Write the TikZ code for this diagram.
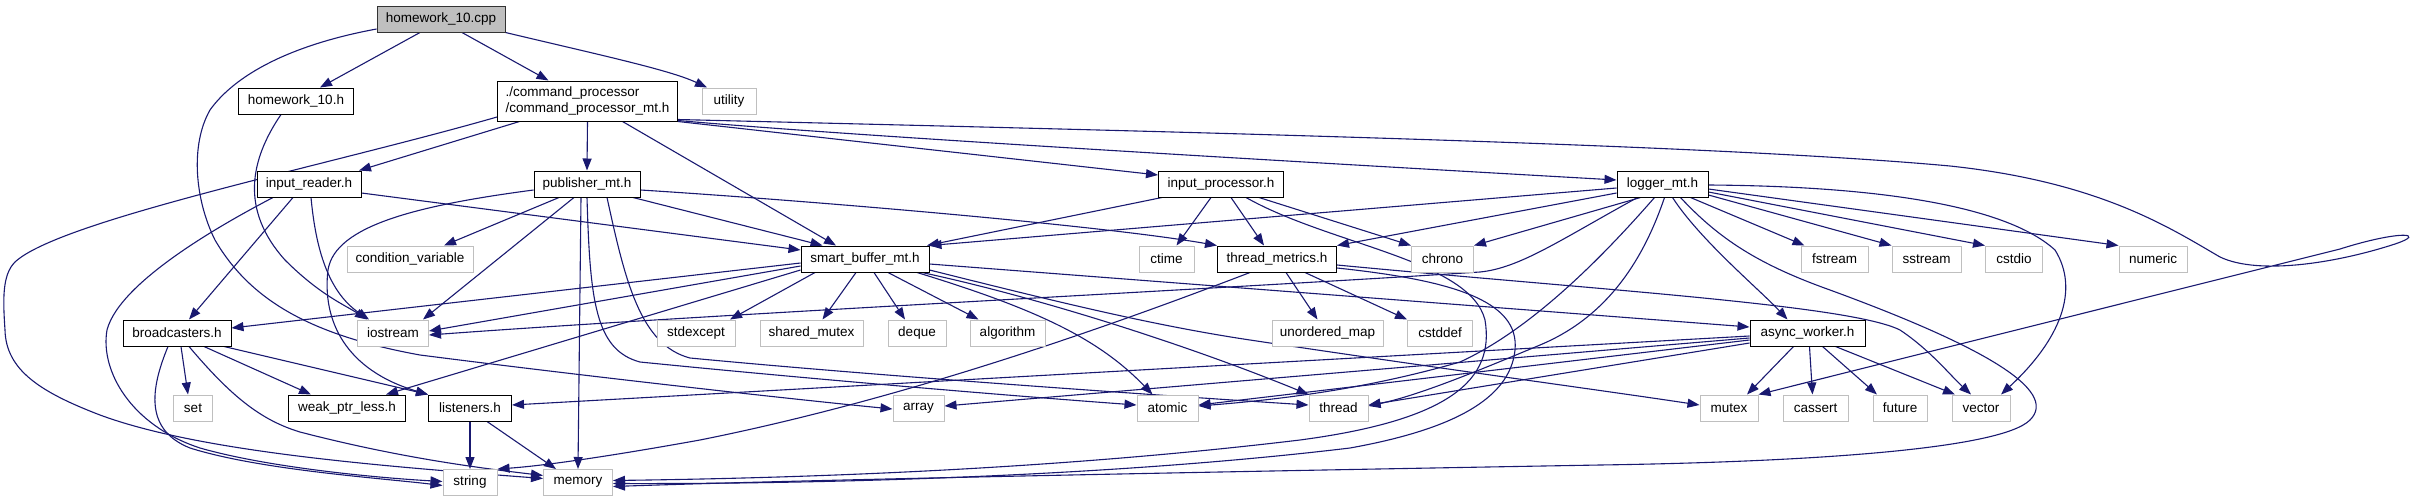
\documentclass[tikz,border=0pt]{standalone}
\usepackage{fontspec}
\setmainfont{Liberation Sans}
\usetikzlibrary{arrows.meta}
\definecolor{edgeblue}{HTML}{191970}
\definecolor{extgray}{HTML}{BFBFBF}
\definecolor{rootgray}{HTML}{BFBFBF}
\pgfdeclarelayer{bg}
\pgfsetlayers{bg,main}
\tikzset{
  nd/.style={draw=black, line width=1pt, fill=white, minimum height=26pt, inner sep=0pt, font=\fontsize{13.5}{15.5}\selectfont},
  ext/.style={nd, draw=extgray},
  root/.style={nd, fill=rootgray, draw=black!80},
  edge/.style={draw=edgeblue, line width=1.1pt, -{Triangle[length=12pt,width=9pt]}}
}
\begin{document}
\begin{tikzpicture}[x=1pt,y=-1pt]
\useasboundingbox (0,0) rectangle (2413,501);
% row 0
\node[root, minimum width=128pt] (cpp) at (441,19) {homework\_10.cpp};
% row 1
\node[nd, minimum width=115pt] (hw10h) at (296,101) {homework\_10.h};
\node[nd, minimum width=180pt, minimum height=40pt, align=left] (cmd) at (587.5,101) {./command\_processor\\/command\_processor\_mt.h};
\node[ext, minimum width=54pt] (utility) at (729,101) {utility};
% row 2
\node[nd, minimum width=104pt] (ireader) at (309,184) {input\_reader.h};
\node[nd, minimum width=106pt] (publisher) at (587,184) {publisher\_mt.h};
\node[nd, minimum width=125pt] (iproc) at (1221,184) {input\_processor.h};
\node[nd, minimum width=91pt] (logger) at (1662.5,184) {logger\_mt.h};
% row 3
\node[ext, minimum width=126pt] (condvar) at (410,259) {condition\_variable};
\node[nd, minimum width=128pt] (sbuf) at (865,259) {smart\_buffer\_mt.h};
\node[ext, minimum width=55pt] (ctime) at (1166.5,259) {ctime};
\node[nd, minimum width=119pt] (tmetrics) at (1277,259) {thread\_metrics.h};
\node[ext, minimum width=62pt] (chrono) at (1442.5,259) {chrono};
\node[ext, minimum width=67pt] (fstream) at (1834.5,259) {fstream};
\node[ext, minimum width=69pt] (sstream) at (1926.5,259) {sstream};
\node[ext, minimum width=57pt] (cstdio) at (2014,259) {cstdio};
\node[ext, minimum width=68pt] (numeric) at (2153,259) {numeric};
% row 4
\node[nd, minimum width=108pt] (bcast) at (177,333) {broadcasters.h};
\node[ext, minimum width=71pt] (iostream) at (393,333) {iostream};
\node[ext, minimum width=78pt] (stdexcept) at (696,333) {stdexcept};
\node[ext, minimum width=103pt] (shmutex) at (811.5,333) {shared\_mutex};
\node[ext, minimum width=58pt] (deque) at (917,333) {deque};
\node[ext, minimum width=75pt] (algorithm) at (1007.5,333) {algorithm};
\node[ext, minimum width=111pt] (umap) at (1327.5,333) {unordered\_map};
\node[ext, minimum width=65pt] (cstddef) at (1440,333) {cstddef};
\node[nd, minimum width=115pt] (aworker) at (1807.5,333) {async\_worker.h};
% row 5
\node[ext, minimum width=39pt] (set) at (193,408) {set};
\node[nd, minimum width=117pt] (weak) at (347,408) {weak\_ptr\_less.h};
\node[nd, minimum width=83pt] (listeners) at (470,408) {listeners.h};
\node[ext, minimum width=51pt] (array) at (918.5,408) {array};
\node[ext, minimum width=61pt] (atomic) at (1167.5,408) {atomic};
\node[ext, minimum width=59pt] (thread) at (1338.5,408) {thread};
\node[ext, minimum width=58pt] (mutex) at (1729,408) {mutex};
\node[ext, minimum width=65pt] (cassert) at (1815.5,408) {cassert};
\node[ext, minimum width=54pt] (future) at (1900,408) {future};
\node[ext, minimum width=58pt] (vector) at (1981,408) {vector};
% row 6
\node[ext, minimum width=54pt] (string) at (470,482.5) {string};
\node[ext, minimum width=69pt] (memory) at (578,482.5) {memory};

\begin{pgfonlayer}{bg}
% homework_10.cpp
\draw[edge] ([xshift=-21pt]cpp.south) -- ([xshift=24pt]hw10h.north);
\draw[edge] ([xshift=21pt]cpp.south) -- ([xshift=-39pt]cmd.north);
\draw[edge] (cpp.south east) .. controls (600,55) and (670,70) .. ([xshift=-22pt]utility.north);
\draw[edge] ([yshift=-10pt]cpp.west) .. controls (290,45) and (235,75) .. (210,110) .. controls (190,145) and (195,200) .. (215,240) .. controls (250,300) and (310,335) .. (420,355) .. controls (600,378) and (800,400) .. ([yshift=-1pt]array.west);
% homework_10.h
\draw[edge] ([xshift=-15pt]hw10h.south) .. controls (250,160) and (240,210) .. (285,260) .. controls (320,295) and (345,305) .. ([xshift=-26pt]iostream.north);
% command_processor_mt.h
\draw[edge] ([xshift=-68pt]cmd.south) -- ([xshift=50pt]ireader.north);
\draw[edge] (cmd.south) -- (publisher.north);
\draw[edge] ([xshift=35pt]cmd.south) -- ([xshift=-29pt]sbuf.north);
\draw[edge] ([yshift=-16pt]cmd.west) .. controls (330,165) and (60,220) .. (15,262) .. controls (2,275) and (3,300) .. (5,330) .. controls (6,370) and (40,392) .. (100,415) .. controls (200,452) and (380,466) .. ([yshift=4pt]memory.west);
\draw[edge] (cmd.south east) -- ([yshift=9pt]iproc.west);
\draw[edge] ([yshift=1pt]cmd.south east) .. controls (850,136) and (1300,162) .. ([yshift=4pt]logger.west);
\draw[edge] ([yshift=2pt]cmd.south east) .. controls (1100,130) and (1700,143) .. (1950,166) .. controls (2100,182) and (2170,228) .. (2220,257) .. controls (2260,276) and (2340,262) .. (2395,244) .. controls (2428,233) and (2400,230) .. (2340,249) -- (mutex.north east);
% input_reader.h
\draw[edge] ([yshift=-9pt]ireader.east) -- ([yshift=9pt]sbuf.west);
\draw[edge] ([xshift=-16pt]ireader.south) -- ([xshift=12pt]bcast.north);
\draw[edge] ([xshift=2pt]ireader.south) .. controls (315,240) and (325,290) .. ([xshift=-24pt]iostream.north);
\draw[edge] ([xshift=-36pt]ireader.south) .. controls (230,220) and (120,280) .. (107,330) .. controls (100,370) and (130,425) .. (200,448) .. controls (270,468) and (380,478) .. ([yshift=1pt]string.west);
% publisher_mt.h
\draw[edge] ([xshift=-28pt]publisher.south) -- ([xshift=34pt]condvar.north);
\draw[edge] ([xshift=-13pt]publisher.south) -- ([xshift=30pt]iostream.north);
\draw[edge] ([xshift=46pt]publisher.south) -- ([xshift=22pt]sbuf.north west);
\draw[edge] ([yshift=-6pt]publisher.east) .. controls (800,200) and (1100,225) .. (tmetrics.north west);
\draw[edge] ([yshift=-6pt]publisher.west) .. controls (420,205) and (335,225) .. (328,270) .. controls (322,320) and (345,370) .. (listeners.north west);
\draw[edge] ([xshift=-6pt]publisher.south) -- (memory.north);
\draw[edge] (publisher.south) .. controls (590,300) and (595,350) .. (640,362) .. controls (800,378) and (1000,395) .. ([yshift=3pt]atomic.west);
\draw[edge] ([xshift=20pt]publisher.south) .. controls (625,280) and (640,345) .. (690,358) .. controls (900,378) and (1200,398) .. ([yshift=3pt]thread.west);
% input_processor.h
\draw[edge] ([xshift=-59pt]iproc.south) -- ([xshift=62pt]sbuf.north);
\draw[edge] ([xshift=-10pt]iproc.south) -- ([xshift=10pt]ctime.north);
\draw[edge] ([xshift=10pt]iproc.south) -- ([xshift=-13pt]tmetrics.north);
\draw[edge] ([xshift=38pt]iproc.south) -- (chrono.north west);
\draw[edge] ([xshift=25pt]iproc.south) .. controls (1330,245) and (1470,260) .. (1485,320) .. controls (1495,380) and (1450,420) .. (1300,440) .. controls (1050,470) and (800,478) .. ([yshift=2pt]memory.east);
% thread_metrics.h
\draw[edge] ([xshift=9pt]tmetrics.south) -- ([xshift=-10pt]umap.north);
\draw[edge] ([xshift=28pt]tmetrics.south) -- ([xshift=-33pt]cstddef.north);
\draw[edge] ([xshift=-27pt]tmetrics.south) .. controls (1100,330) and (900,400) .. (700,440) .. controls (600,458) and (540,466) .. (string.north east);
\draw[edge] ([yshift=-6pt]tmetrics.east) .. controls (1600,290) and (1850,305) .. (1900,330) .. controls (1930,350) and (1950,375) .. ([xshift=-10pt]vector.north);
\draw[edge] ([yshift=-9pt]tmetrics.east) .. controls (1450,280) and (1520,300) .. (1515,350) .. controls (1510,400) and (1450,430) .. (1350,448) .. controls (1100,478) and (800,484) .. ([yshift=-1pt]memory.east);
% logger_mt.h
\draw[edge] ([yshift=-4pt]logger.west) -- (sbuf.north east);
\draw[edge] ([yshift=-9pt]logger.west) -- (tmetrics.north east);
\draw[edge] ([xshift=-22pt]logger.south) -- (chrono.north east);
\draw[edge] ([xshift=-25pt]logger.south) .. controls (1560,240) and (1520,268) .. (1480,272) .. controls (1200,290) and (700,315) .. ([yshift=-2pt]iostream.east);
\draw[edge] ([xshift=28pt]logger.south) -- ([xshift=-30pt]fstream.north);
\draw[edge] ([yshift=-11pt]logger.east) -- (sstream.north west);
\draw[edge] ([yshift=-8pt]logger.east) -- (cstdio.north west);
\draw[edge] ([yshift=-5pt]logger.east) -- (numeric.north west);
\draw[edge] ([xshift=10pt]logger.south) .. controls (1700,240) and (1760,290) .. ([xshift=-20pt]aworker.north);
\draw[edge] ([yshift=-1pt]logger.east) .. controls (1850,186) and (2000,200) .. (2055,250) .. controls (2080,290) and (2060,340) .. ([xshift=20pt]vector.north);
\draw[edge] ([xshift=18pt]logger.south) .. controls (1720,240) and (1760,265) .. (1830,290) .. controls (1980,345) and (2060,390) .. (2030,420) .. controls (2000,450) and (1800,462) .. (1600,465) .. controls (1200,472) and (800,480) .. ([yshift=-4pt]memory.east);
\draw[edge] ([xshift=-8pt]logger.south) .. controls (1600,260) and (1530,330) .. (1460,362) .. controls (1380,385) and (1300,398) .. ([yshift=2pt]atomic.east);
\draw[edge] ([xshift=2pt]logger.south) .. controls (1640,270) and (1600,320) .. (1540,345) .. controls (1480,370) and (1420,395) .. ([yshift=2pt]thread.east);
% smart_buffer_mt.h
\draw[edge] ([yshift=-4pt]sbuf.west) -- ([yshift=5pt]bcast.east);
\draw[edge] ([yshift=-7pt]sbuf.west) -- ([yshift=2pt]iostream.east);
\draw[edge] ([xshift=-50pt]sbuf.south) -- ([xshift=34pt]stdexcept.north);
\draw[edge] ([xshift=-9pt]sbuf.south) -- ([xshift=11pt]shmutex.north);
\draw[edge] ([xshift=9pt]sbuf.south) -- ([xshift=-12pt]deque.north);
\draw[edge] ([xshift=23pt]sbuf.south) -- ([xshift=-29pt]algorithm.north);
\draw[edge] ([yshift=-11pt]sbuf.west) -- ([xshift=39pt]weak.north);
\draw[edge] ([xshift=52pt]sbuf.south) .. controls (1040,310) and (1100,340) .. ([xshift=-15pt]atomic.north);
\draw[edge] ([xshift=57pt]sbuf.south) .. controls (1050,300) and (1200,350) .. (thread.north west);
\draw[edge] ([yshift=-11pt]sbuf.east) .. controls (1050,300) and (1150,325) .. (1250,340) .. controls (1450,370) and (1600,390) .. ([yshift=3pt]mutex.west);
\draw[edge] ([yshift=-5pt]sbuf.east) -- ([yshift=6pt]aworker.west);
% async_worker.h
\draw[edge] ([xshift=-14pt]aworker.south) -- ([xshift=18pt]mutex.north);
\draw[edge] ([xshift=2pt]aworker.south) -- ([xshift=-3pt]cassert.north);
\draw[edge] ([xshift=15pt]aworker.south) -- ([xshift=-23pt]future.north);
\draw[edge] ([xshift=28pt]aworker.south) -- ([xshift=-26pt]vector.north);
\draw[edge] ([yshift=-7pt]aworker.west) -- ([yshift=3pt]atomic.east);
\draw[edge] ([yshift=-10pt]aworker.west) -- ([yshift=3pt]thread.east);
\draw[edge] ([yshift=-5pt]aworker.west) -- ([yshift=2pt]array.east);
\draw[edge] ([yshift=-3pt]aworker.west) -- ([yshift=3pt]listeners.east);
% broadcasters.h
\draw[edge] ([xshift=4pt]bcast.south) -- ([xshift=-5pt]set.north);
\draw[edge] ([xshift=27pt]bcast.south) -- ([xshift=-36pt]weak.north);
\draw[edge] ([xshift=47pt]bcast.south) -- (listeners.north west);
\draw[edge] ([xshift=-9pt]bcast.south) .. controls (150,390) and (145,430) .. (190,448) .. controls (260,470) and (380,478) .. ([yshift=-3pt]string.west);
\draw[edge] ([xshift=12pt]bcast.south) .. controls (230,395) and (260,420) .. (300,432) .. controls (400,458) and (480,468) .. ([yshift=7pt]memory.west);
% listeners.h
\draw[edge] (listeners.south) -- (string.north);
\draw[edge] ([xshift=17pt]listeners.south) -- ([xshift=-22pt]memory.north);
\end{pgfonlayer}
\end{tikzpicture}
\end{document}
